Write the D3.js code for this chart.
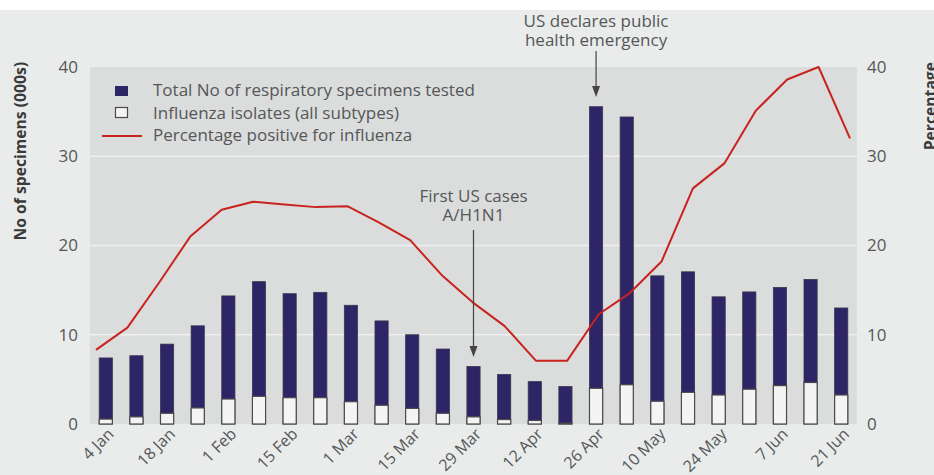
<!DOCTYPE html>
<html>
<head>
<meta charset="utf-8">
<script src="https://cdn.jsdelivr.net/npm/d3@7"></script>
<style>
  html, body { margin: 0; padding: 0; background: #fff; }
  svg { display: block; }
  text { font-family: "Open Sans", "Noto Sans", sans-serif; }
</style>
</head>
<body>
<svg id="plot" width="934" height="475"></svg>
<script>
const width = 934;
const height = 475;

// weekly data, 4 Jan to 21 Jun 2009
const weeks = ["4 Jan", "11 Jan", "18 Jan", "25 Jan", "1 Feb", "8 Feb", "15 Feb", "22 Feb",
  "1 Mar", "8 Mar", "15 Mar", "22 Mar", "29 Mar", "5 Apr", "12 Apr", "19 Apr", "26 Apr",
  "3 May", "10 May", "17 May", "24 May", "31 May", "7 Jun", "14 Jun", "21 Jun"];
const tickLabels = ["4 Jan", "18 Jan", "1 Feb", "15 Feb", "1 Mar", "15 Mar", "29 Mar",
  "12 Apr", "26 Apr", "10 May", "24 May", "7 Jun", "21 Jun"];
// No of specimens tested (000s)
const totalTested = [7.4, 7.65, 8.95, 11.0, 14.35, 15.95, 14.6, 14.75, 13.3, 11.55, 10.0, 8.4,
  6.45, 5.55, 4.75, 4.2, 35.55, 34.4, 16.6, 17.05, 14.25, 14.8, 15.3, 16.2, 13.0];
// influenza isolates (000s)
const isolates = [0.55, 0.8, 1.2, 1.8, 2.8, 3.1, 2.95, 2.95, 2.5, 2.1, 1.75, 1.2,
  0.8, 0.5, 0.4, 0.1, 4.0, 4.4, 2.55, 3.55, 3.25, 3.9, 4.3, 4.65, 3.25];
// percentage positive for influenza
const pctPositive = [8.3, 10.8, 15.8, 21.0, 24.0, 24.9, 24.6, 24.3, 24.4, 22.6, 20.6, 16.7,
  13.6, 11.0, 7.1, 7.1, 12.3, 14.7, 18.2, 26.4, 29.2, 35.1, 38.6, 40.0, 32.0];
const yTicks = [0, 10, 20, 30, 40];

const legendItems = ["Total No of respiratory specimens tested",
  "Influenza isolates (all subtypes)", "Percentage positive for influenza"];

const navy = "#2e2566";
const red = "#c8231f";
const txt = "#555759";
const fs = 17;

const svg = d3.select("#plot");

const plotL = 90, plotR = 857, plotT = 67, plotB = 424;

const x = d3.scaleBand().domain(weeks).range([plotL, plotR]).paddingInner(0.57).paddingOuter(0.3);
const xLine = d3.scalePoint().domain(weeks).range([96, 850]);
const y = d3.scaleLinear().domain([0, 40]).range([plotB, plotT]);
const yPct = d3.scaleLinear().domain([0, 40]).range([plotB, plotT]);

// backgrounds
svg.append("rect").attr("x", 0).attr("y", 10).attr("width", width).attr("height", height - 10)
  .attr("fill", "#e9ecea");
svg.append("rect").attr("x", plotL).attr("y", plotT).attr("width", plotR - plotL)
  .attr("height", plotB - plotT).attr("fill", "#dbdcdc");

// gridlines
svg.append("g").selectAll("line")
  .data(yTicks.filter(d => d > 0 && d < 40))
  .join("line")
  .attr("x1", plotL).attr("x2", plotR)
  .attr("y1", d => y(d)).attr("y2", d => y(d))
  .attr("stroke", "#eeefee").attr("stroke-width", 1.5);

// left axis
const yAxisL = svg.append("g")
  .attr("transform", `translate(${plotL - 12},0)`)
  .call(d3.axisLeft(y).tickValues(yTicks).tickSize(0).tickPadding(0));
yAxisL.select(".domain").remove();
yAxisL.selectAll("text").attr("font-size", fs).attr("fill", txt)
  .style("font-family", "'Open Sans', sans-serif");

// right axis
const yAxisR = svg.append("g")
  .attr("transform", `translate(${plotR + 10},0)`)
  .call(d3.axisRight(yPct).tickValues(yTicks).tickSize(0).tickPadding(0));
yAxisR.select(".domain").remove();
yAxisR.selectAll("text").attr("font-size", fs).attr("fill", txt)
  .style("font-family", "'Open Sans', sans-serif");

// axis titles
svg.append("text")
  .attr("transform", "translate(26,62) rotate(-90)")
  .attr("text-anchor", "end")
  .attr("font-size", 15.7).attr("font-weight", "bold").attr("fill", "#3a3a3a")
  .text("No of specimens (000s)");
svg.append("text")
  .attr("transform", "translate(936,62) rotate(-90)")
  .attr("text-anchor", "end")
  .attr("font-size", 15.7).attr("font-weight", "bold").attr("fill", "#3a3a3a")
  .text("Percentage");

// bars
svg.append("g").selectAll("rect")
  .data(weeks)
  .join("rect")
  .attr("x", d => x(d))
  .attr("y", (d, i) => y(totalTested[i]))
  .attr("width", x.bandwidth())
  .attr("height", (d, i) => y(0) - y(totalTested[i]))
  .attr("fill", navy)
  .attr("stroke", "#3a3550").attr("stroke-width", 0.8);

svg.append("g").selectAll("rect")
  .data(weeks)
  .join("rect")
  .attr("x", d => x(d))
  .attr("y", (d, i) => y(isolates[i]))
  .attr("width", x.bandwidth())
  .attr("height", (d, i) => y(0) - y(isolates[i]))
  .attr("fill", "#f3f4f3")
  .attr("stroke", "#4a4a4a").attr("stroke-width", 1.2);

// percentage line
svg.append("path")
  .datum(weeks)
  .attr("fill", "none")
  .attr("stroke", red)
  .attr("stroke-width", 2)
  .attr("stroke-linejoin", "round")
  .attr("d", d3.line().x(d => xLine(d)).y((d, i) => yPct(pctPositive[i])));

// x tick labels
const xAxis = svg.append("g")
  .attr("transform", `translate(0,${plotB})`)
  .call(d3.axisBottom(x).tickValues(tickLabels).tickSize(0).tickPadding(0));
xAxis.select(".domain").remove();
xAxis.selectAll("text")
  .attr("font-size", 16).attr("fill", txt)
  .style("font-family", "'Open Sans', sans-serif")
  .attr("text-anchor", "end")
  .attr("dy", 0)
  .attr("y", 0)
  .attr("transform", "translate(9,11) rotate(-45)");

// legend
const legend = svg.append("g").attr("transform", "translate(115,0)");
legend.append("rect").attr("x", 0).attr("y", 86).attr("width", 13).attr("height", 10)
  .attr("fill", navy);
legend.append("rect").attr("x", 0.5).attr("y", 107.5).attr("width", 12).attr("height", 10)
  .attr("fill", "#f3f4f3").attr("stroke", "#4a4a4a").attr("stroke-width", 1.2);
legend.append("line").attr("x1", -13).attr("x2", 27).attr("y1", 136).attr("y2", 136)
  .attr("stroke", red).attr("stroke-width", 2);
legend.selectAll("text.leg")
  .data(legendItems)
  .join("text")
  .attr("class", "leg")
  .attr("x", 38)
  .attr("y", (d, i) => 96 + i * 22.5)
  .attr("font-size", fs).attr("fill", txt)
  .text(d => d);

// annotations
function annotate(week, lines, textY, arrowY1, arrowY2) {
  const cx = x(week) + x.bandwidth() / 2;
  svg.append("g").selectAll("text")
    .data(lines)
    .join("text")
    .attr("x", cx)
    .attr("y", (d, i) => textY + i * 19)
    .attr("text-anchor", "middle")
    .attr("font-size", fs).attr("fill", txt)
    .text(d => d);
  svg.append("line")
    .attr("x1", cx).attr("x2", cx)
    .attr("y1", arrowY1).attr("y2", arrowY2 - 8)
    .attr("stroke", "#444").attr("stroke-width", 1.2);
  svg.append("path")
    .attr("d", `M${cx - 4},${arrowY2 - 11}L${cx + 4},${arrowY2 - 11}L${cx},${arrowY2}Z`)
    .attr("fill", "#444");
}

annotate("29 Mar", ["First US cases", "A/H1N1"], 202, 230, 357);
annotate("26 Apr", ["US declares public", "health emergency"], 27, 51, 97);
</script>
</body>
</html>
